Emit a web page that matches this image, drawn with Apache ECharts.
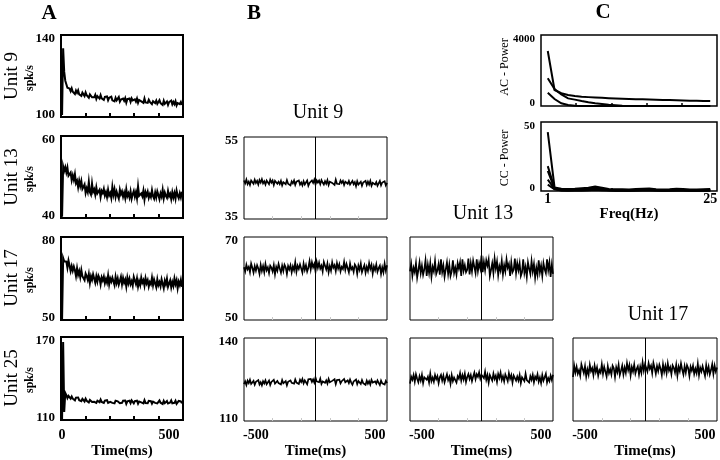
<!DOCTYPE html>
<html><head><meta charset="utf-8">
<script src="https://cdn.jsdelivr.net/npm/echarts@6/dist/echarts.min.js"></script>
<style>html,body{margin:0;padding:0;background:#fff}#c{width:720px;height:460px}</style>
</head><body><div id="c"></div>
<script>
const FONT = '"Liberation Serif","Times New Roman",serif';

// ---------- Panel A : PSTH traces, sampled every 5 ms from 0 ms ----------
const aTimeStart = 0, aTimeStep = 5;
const aUnit9 = [101,133.5,122,117.7,117.2,114.3,115.1,113.9,112.6,114.0,
112.3,113.0,111.2,112.9,111.8,113.0,111.0,111.8,110.3,111.9,
111.1,110.2,112.0,110.6,111.3,109.4,111.0,111.4,109.6,110.4,
109.6,110.8,108.8,110.2,110.4,109.0,110.7,109.1,109.5,108.3,
109.8,108.9,110.0,108.2,109.4,108.8,109.9,108.1,109.0,107.6,
109.4,108.1,108.9,109.7,107.5,108.5,107.8,109.0,107.9,109.2,
107.0,108.7,107.9,109.0,107.4,109.1,108.1,107.2,108.6,107.5,
109.0,106.9,108.3,108.6,107.6,108.3,106.9,109.0,107.1,107.9,
106.9,108.4,107.4,108.1,106.3,107.7,108.3,106.8,108.0,106.4,
107.3,108.2,106.8,107.6,105.9,107.9,106.4,107.2,107.6,105.9,
107.3,106.7,108.0,106.2,107.4,106.3,107.7,105.6,106.8,107.5,
106.3,107.3,105.9];
const aUnit13 = [40.3,52.6,51.5,52.4,51.1,52.3,50.3,50.5,51.1,49.2,
50.4,49.3,50.7,48.5,49.1,47.5,49.1,47.8,49.0,47.1,
47.6,48.2,46.1,47.2,46.3,48.8,46.3,45.7,48.4,46.4,
47.0,45.7,47.5,46.0,45.6,46.9,45.1,46.6,46.1,47.1,
45.5,46.3,45.1,46.9,45.5,46.1,44.9,47.6,45.7,47.0,
45.1,46.4,45.5,44.7,46.9,45.8,46.5,45.2,46.2,44.9,
47.0,45.3,46.0,45.0,46.5,44.7,45.8,46.6,45.2,46.3,
44.8,47.7,45.4,45.0,46.0,45.3,46.7,44.5,46.3,45.5,
46.4,44.9,45.8,45.1,46.8,45.3,44.7,46.2,45.0,46.5,
45.6,44.6,46.0,45.2,46.9,44.8,46.2,45.4,44.9,46.6,
45.3,45.9,44.6,46.3,45.0,46.1,44.7,46.7,45.5,44.8,
46.0,45.0,46.4];
const aUnit17 = [50.2,72.4,71.2,70.8,71.1,68.9,71.5,69.7,67.7,69.5,
67.8,69.3,68.0,65.9,68.7,66.3,67.7,65.5,68.0,65.8,
66.5,64.4,66.8,65.9,64.5,66.6,63.4,65.8,64.5,66.5,
65.0,63.5,65.8,63.9,66.0,65.1,62.9,65.4,64.3,65.7,
63.3,64.8,63.5,66.1,62.9,65.0,63.9,65.3,64.7,62.6,
65.6,63.4,65.0,62.8,64.1,65.6,62.9,65.2,63.5,64.6,
62.1,65.3,63.3,64.9,62.9,64.0,62.4,65.6,64.3,63.0,
65.0,62.1,64.0,62.6,65.3,63.5,64.4,62.4,65.1,63.3,
64.4,62.1,63.7,62.9,65.3,62.6,64.6,64.0,61.9,64.7,
62.6,63.7,62.2,64.7,64.0,61.5,64.2,62.9,64.9,62.0,
63.2,64.3,61.8,63.7,62.3,65.0,63.0,64.4,61.5,63.8,
62.6,64.5,62.0];
const aUnit25 = [110.5,166.4,115.8,129.5,127.9,125.8,127.4,126.6,125.4,127.0,
125.4,126.1,124.2,126.2,125.0,126.3,124.3,125.1,123.6,125.3,
124.4,123.4,125.4,123.9,124.8,122.7,124.5,124.9,123.0,124.0,
123.2,124.6,122.4,123.9,124.3,122.9,124.8,123.0,123.5,122.3,
124.0,123.0,124.3,122.4,123.8,123.1,124.4,122.4,123.5,122.0,
124.0,122.6,123.5,124.4,122.1,123.2,122.4,123.9,122.7,124.1,
121.7,123.5,122.7,123.9,122.2,124.2,123.0,122.1,123.6,122.5,
124.0,121.8,123.4,123.8,122.7,123.5,122.0,124.3,122.3,123.2,
122.2,123.9,122.8,123.6,121.8,123.3,124.0,122.4,123.7,122.0,
123.0,124.1,122.5,123.4,121.6,123.8,122.2,123.2,123.7,121.9,
123.3,122.6,124.1,122.1,123.5,122.4,123.9,121.7,123.0,123.8,
122.5,123.5,122.0];
const aTicks9 = [100, 140], aTicks13 = [40, 60], aTicks17 = [50, 80], aTicks25 = [110, 170];
const aTimeLabels = [0, 500];

// ---------- Panel B : correlograms, sampled every 10 ms from -600 ms ----------
const bTimeStart = -600, bTimeStep = 10;
const bUnit9 = [44.4,43.7,44.6,43.5,44.1,43.3,44.4,44.1,43.6,44.6,
43.8,44.3,43.4,44.5,43.9,44.7,43.7,44.2,43.4,44.4,
44.0,43.5,44.6,43.9,44.4,43.3,44.3,44.6,43.6,44.1,
43.5,44.3,43.2,44.0,44.2,43.5,44.5,43.6,43.9,43.2,
44.2,43.7,44.4,43.3,44.1,43.7,44.4,43.4,43.9,43.2,
44.2,43.4,43.9,44.4,43.1,43.8,43.4,44.4,43.8,44.6,
43.4,44.4,43.9,44.4,43.5,44.5,43.9,43.4,44.2,43.6,
44.5,43.3,44.1,44.3,43.8,44.2,43.3,44.6,43.6,44.0,
43.5,44.4,43.8,44.3,43.3,44.1,44.5,43.6,44.3,43.4,
43.8,44.3,43.5,44.0,43.0,44.2,43.4,43.8,44.1,43.1,
43.9,43.6,44.3,43.3,44.1,43.4,44.3,43.1,43.8,44.2,
43.4,44.0,43.1,43.7,44.3,43.2,43.9,43.5,44.2,43.2,43.8];
const bUnit17Left = [62.7,61.7,63.3,62.2,62.8,61.5,63.6,62.6,61.4,63.0,61.9,
63.2,62.4,61.1,63.3,61.8,63.0,61.5,63.5,62.0,62.7,
61.3,63.1,62.6,61.7,63.2,61.0,62.8,61.9,63.5,62.4,
61.4,63.1,61.8,63.3,62.7,61.1,63.0,62.2,63.2,61.5,
62.9,62.0,63.9,61.6,63.1,62.3,63.4,63.0,61.4,63.6,
62.1,63.2,61.7,62.6,64.2,62.2,63.9,62.7,63.5,61.7,
64.0,62.6,63.8,62.4,63.1,61.7,64.0,63.1,62.2,63.6,
61.5,63.0,61.9,63.9,62.6,63.2,61.8,63.7,62.4,63.4,
61.7,62.8,62.3,64.0,62.1,63.5,63.1,61.5,63.6,62.2,
62.7,61.6,63.4,62.9,61.1,63.1,62.1,63.6,61.5,62.4,
63.2,61.4,62.8,61.8,63.7,62.3,63.3,61.2,62.9,62.0,
63.4,61.6,62.5,63.1,61.1,62.7,61.5,63.6,61.9,63.2];
const bUnit25Left = [123.3,124.3,123.0,124.6,123.7,124.9,123.4,123.8,124.5,123.1,
124.2,123.5,124.8,123.2,124.0,122.9,124.4,123.6,124.7,123.3,
123.9,124.6,123.0,124.1,123.4,124.9,123.5,123.1,124.5,123.7,
124.3,123.2,124.8,123.6,123.3,124.4,122.9,124.2,123.8,124.7,
123.8,124.5,123.5,125.0,123.9,124.4,123.4,124.9,124.1,125.2,
123.6,124.7,124.0,123.3,125.1,124.6,125.2,124.1,125.0,123.9,
125.7,124.3,124.9,124.0,125.3,123.4,124.3,125.0,123.8,124.7,
123.5,125.2,124.0,123.7,124.5,123.9,125.1,123.3,124.8,124.1,
124.9,123.6,124.4,123.8,125.2,124.0,123.5,124.7,123.7,125.0,
123.9,123.1,124.3,123.6,125.0,123.3,124.5,123.8,123.4,124.8,
123.7,124.2,123.1,124.6,123.5,124.4,123.2,124.9,123.9,123.3,
124.3,123.5,124.7,123.8,123.0,124.6,123.6,124.1,123.2,124.5,123.7];
const bUnit17Mid = [61.7,63.5,60.6,62.6,61.5,63.7,60.2,62.0,63.9,61.3,63.1,
60.9,62.2,64.4,60.6,63.3,61.3,63.7,60.4,62.8,61.7,
64.2,61.1,62.0,63.5,60.9,64.6,61.5,63.1,60.4,62.2,
63.9,61.1,63.3,60.6,61.7,64.4,61.3,62.6,60.9,63.7,
62.4,63.9,60.6,64.6,61.9,63.2,61.5,62.1,64.8,61.0,
63.7,61.7,64.3,62.8,61.3,64.6,61.8,63.7,62.4,65.5,
61.5,64.0,62.0,64.4,63.1,64.6,60.6,62.1,63.7,61.3,
64.8,62.4,64.1,60.8,63.0,61.9,64.3,61.0,63.2,61.7,
64.6,62.6,63.5,60.6,63.9,61.5,62.1,64.8,61.3,63.7,
62.0,63.7,60.6,61.5,64.6,61.3,62.8,60.4,63.9,62.4,
61.1,64.2,61.7,63.5,60.2,62.6,60.9,64.4,61.5,63.1,
60.6,63.7,62.2,61.3,64.6,62.0,63.9,60.4,63.3,61.1];
const bUnit25Mid = [123.5,126.0,124.9,126.6,124.2,126.9,125.3,124.0,126.2,124.6,
126.7,123.7,125.8,126.4,124.9,126.0,123.9,127.1,124.4,125.7,
124.2,126.6,125.1,126.2,123.7,125.8,126.7,124.6,126.4,124.0,
125.5,126.9,124.8,126.0,123.5,126.6,124.4,125.7,126.4,123.9,
126.2,125.3,127.3,124.6,126.6,125.0,127.1,124.1,125.9,127.0,
125.2,126.6,124.4,126.1,127.5,125.1,126.9,126.0,127.6,125.3,126.7,
127.3,125.5,127.8,124.9,126.6,123.9,126.6,125.9,124.6,127.1,
125.2,126.4,124.1,127.0,125.5,127.5,124.8,126.2,124.3,126.8,
125.7,124.4,127.3,125.3,126.6,123.9,126.4,127.1,124.6,126.1,
124.6,126.6,123.7,125.8,126.4,124.4,127.1,124.8,125.5,123.9,
126.2,124.9,126.7,124.0,126.0,125.1,126.9,124.2,125.7,123.7,
126.6,124.6,125.8,127.1,123.9,125.5,124.4,126.4,124.8,126.7];
const bUnit25Right = [125.9,130.0,127.5,129.6,127.1,128.4,126.4,130.5,128.9,127.3,129.8,
126.1,128.7,126.8,130.3,128.0,129.1,126.6,130.0,127.7,129.4,
126.4,128.4,127.5,130.5,127.1,129.6,128.9,126.1,129.8,127.3,
128.7,126.8,130.0,129.1,125.9,129.4,127.7,130.3,126.6,128.2,
130.0,126.8,129.3,127.4,130.9,128.4,130.2,126.5,129.5,127.9,
130.4,127.2,128.8,129.8,126.8,129.6,127.5,131.2,128.2,130.5,
129.8,127.9,130.9,128.9,130.0,127.3,131.0,129.2,127.1,129.9,
128.0,130.3,128.9,126.6,130.5,127.8,129.9,127.3,130.8,128.2,
129.4,126.9,130.1,129.2,127.5,130.3,126.4,129.6,128.0,130.8,
128.6,126.8,129.8,127.5,130.2,129.1,126.3,129.6,128.2,130.0,
127.0,128.9,127.3,130.7,126.6,129.3,127.9,129.8,129.1,126.3,
130.2,127.5,129.6,126.8,128.4,130.5,127.0,130.0,127.9,129.3];
const bTicks9 = [35, 55], bTicks17 = [50, 70], bTicks25 = [110, 140];
const bTimeLabels = [-500, 500];

// ---------- Panel C : power spectra ----------
const freqHz = [1,2,3,4,5,6,7,8,9,10,11,12,13,14,15,16,17,18,19,20,21,22,23,24,25];
const acPowerHigh = [3100,900,720,620,565,525,500,480,460,440,425,410,397,385,375,365,355,345,335,320,310,300,290,283,275];
const acPowerMid  = [1560,950,650,430,360,280,210,150,110,70,40,15,5,0,0,0,0,0,0,0,0,0,0,0,0];
const acPowerLow  = [750,390,150,60,15,0,0,0,0,0,0,0,0,0,0,0,0,0,0,0,0,0,0,0,0];
const ccPower1 = [42.6,2.6,1.6,1.4,1.6,2.0,2.3,3.3,2.4,1.5,1.2,1.3,1.1,1.4,1.6,1.8,1.3,1.1,1.2,1.7,1.4,1.1,1.0,1.2,1.5];
const ccPower2 = [18.0,1.9,1.0,0.8,1.0,1.3,1.6,2.5,1.8,0.9,0.7,0.8,0.6,0.8,1.0,1.2,0.8,0.6,0.7,1.0,0.8,0.6,0.5,0.7,0.9];
const ccPower3 = [14.5,1.7,0.8,0.6,0.7,0.9,1.2,1.9,1.3,0.7,0.5,0.6,0.4,0.6,0.7,0.9,0.6,0.4,0.5,0.7,0.6,0.4,0.4,0.5,0.6];
const ccPower4 = [8.3,1.5,0.6,0.4,0.5,0.6,0.8,1.4,1.0,0.5,0.3,0.4,0.3,0.4,0.5,0.6,0.4,0.3,0.3,0.5,0.4,0.3,0.3,0.3,0.4];
const ccPower5 = [4.6,1.3,0.4,0.3,0.3,0.4,0.5,0.9,0.6,0.3,0.2,0.3,0.2,0.3,0.3,0.4,0.3,0.2,0.2,0.3,0.3,0.2,0.2,0.2,0.3];
const acTicks = [0, 4000], ccTicks = [0, 50], freqLabels = [1, 25];

// ---------- build ----------
const grids = [], xAxes = [], yAxes = [], series = [];
function timePairs(start, step, vals) { return vals.map((v, i) => [start + i * step, v]); }
function addGrid(box, bw) {
  grids.push(Object.assign({show: true, borderColor: '#000', borderWidth: bw, backgroundColor: 'transparent', outerBoundsMode: 'none', containLabel: false}, box));
  return grids.length - 1;
}
function yAxis(gi, ticks, fs, show) {
  const lo = ticks[0], hi = ticks[1];
  const base = {fontFamily: FONT, fontSize: fs, fontWeight: 'bold', color: '#000'};
  return {type: 'value', gridIndex: gi, min: lo, max: hi,
    axisLine: {show: false}, axisTick: {show: false}, splitLine: {show: false},
    axisLabel: {show: show, customValues: ticks, margin: 6, fontFamily: FONT, fontSize: fs, fontWeight: 'bold', color: '#000',
      formatter: v => v === hi ? '{t|' + v + '}' : '{b|' + v + '}',
      rich: {t: Object.assign({padding: [8, 0, 0, 0]}, base), b: Object.assign({padding: [0, 0, 5, 0]}, base)}}};
}
function xAxisA(gi, labels) {
  return {type: 'value', gridIndex: gi, min: -5, max: 565,
    axisLine: {show: false}, splitLine: {show: false},
    axisTick: {show: true, inside: true, length: 4, customValues: [109, 223, 337, 451], lineStyle: {color: '#000', width: 2}},
    axisLabel: {show: !!labels, customValues: labels || [], margin: 8, fontFamily: FONT, fontSize: 14, fontWeight: 'bold', color: '#000'},
    name: labels ? 'Time(ms)' : '', nameLocation: 'middle', nameGap: 24,
    nameTextStyle: {fontFamily: FONT, fontSize: 15, fontWeight: 'bold', color: '#000'}};
}
function xAxisB(gi, labels) {
  return {type: 'value', gridIndex: gi, min: -600, max: 600,
    axisLine: {show: false}, splitLine: {show: false},
    axisTick: {show: true, inside: true, length: 3, customValues: [-360, -120, 120, 360], lineStyle: {color: '#c8c8c8', width: 1}},
    axisLabel: {show: !!labels, customValues: labels || [], margin: 7, fontFamily: FONT, fontSize: 14, fontWeight: 'bold', color: '#000'},
    name: labels ? 'Time(ms)' : '', nameLocation: 'middle', nameGap: 23,
    nameTextStyle: {fontFamily: FONT, fontSize: 15, fontWeight: 'bold', color: '#000'}};
}
function xAxisC(gi, labels) {
  return {type: 'value', gridIndex: gi, min: 0, max: 26,
    axisLine: {show: false}, splitLine: {show: false},
    axisTick: {show: true, inside: true, length: 3, customValues: [5.2, 10.4, 15.6, 20.8], lineStyle: {color: '#000', width: 1.5}},
    axisLabel: {show: !!labels, customValues: labels || [], margin: 1, fontFamily: FONT, fontSize: 14, fontWeight: 'bold', color: '#000'},
    name: labels ? 'Freq(Hz)' : '', nameLocation: 'middle', nameGap: 0,
    nameTextStyle: {fontFamily: FONT, fontSize: 15, fontWeight: 'bold', color: '#000'}};
}
function line(gi, data, w, extra) {
  series.push(Object.assign({type: 'line', xAxisIndex: gi, yAxisIndex: gi, data: data, showSymbol: false, symbol: 'none',
    lineStyle: {color: '#000', width: w, join: 'miter'}, animation: false, silent: true, clip: true}, extra || {}));
}
const zeroLine = {markLine: {silent: true, symbol: 'none', label: {show: false}, animation: false,
  lineStyle: {color: '#000', width: 1, type: 'solid'}, data: [{xAxis: 0}]}};

// Panel A
const aPanels = [
  [{left: 61, top: 35, width: 122, height: 82}, aUnit9, aTicks9, null],
  [{left: 61, top: 136, width: 122, height: 82}, aUnit13, aTicks13, null],
  [{left: 61, top: 237, width: 122, height: 83}, aUnit17, aTicks17, null],
  [{left: 61, top: 337, width: 122, height: 83}, aUnit25, aTicks25, aTimeLabels]
];
aPanels.forEach(p => {
  const gi = addGrid(p[0], 2);
  xAxes.push(xAxisA(gi, p[3]));
  yAxes.push(yAxis(gi, p[2], 13, true));
  line(gi, timePairs(aTimeStart, aTimeStep, p[1]), 2);
});
// Panel B
const bPanels = [
  [{left: 244, top: 137, width: 143, height: 82}, bUnit9, bTicks9, true, null],
  [{left: 244, top: 237, width: 143, height: 83}, bUnit17Left, bTicks17, true, null],
  [{left: 244, top: 338, width: 143, height: 83}, bUnit25Left, bTicks25, true, bTimeLabels],
  [{left: 410, top: 237, width: 143, height: 83}, bUnit17Mid, bTicks17, false, null],
  [{left: 410, top: 338, width: 143, height: 83}, bUnit25Mid, bTicks25, false, bTimeLabels],
  [{left: 573, top: 338, width: 144, height: 83}, bUnit25Right, bTicks25, false, bTimeLabels]
];
bPanels.forEach(p => {
  const gi = addGrid(p[0], 1);
  xAxes.push(xAxisB(gi, p[4]));
  yAxes.push(yAxis(gi, p[2], 13, p[3]));
  line(gi, timePairs(bTimeStart, bTimeStep, p[1]), 1.7, zeroLine);
});
// Panel C
const giAC = addGrid({left: 541, top: 35, width: 176, height: 71}, 1.5);
xAxes.push(xAxisC(giAC, null));
yAxes.push(yAxis(giAC, acTicks, 11, true));
[acPowerHigh, acPowerMid, acPowerLow].forEach(arr => line(giAC, freqHz.map((f, i) => [f, arr[i]]), 2));
const giCC = addGrid({left: 541, top: 122, width: 176, height: 69}, 1.5);
xAxes.push(xAxisC(giCC, freqLabels));
yAxes.push(yAxis(giCC, ccTicks, 11, true));
[ccPower1, ccPower2, ccPower3, ccPower4, ccPower5].forEach(arr => line(giCC, freqHz.map((f, i) => [f, arr[i]]), 2));

// texts
function txt(x, y, s, size, weight, rot) {
  return {type: 'text', x: x, y: y, rotation: rot || 0, silent: true,
    style: {text: s, fontFamily: FONT, fontSize: size, fontWeight: weight || 'normal', fill: '#000',
      align: 'center', verticalAlign: 'middle', textAlign: 'center', textVerticalAlign: 'middle'}};
}
const R = Math.PI / 2;
const graphic = [
  txt(49, 14, 'A', 21, 'bold'), txt(254, 14, 'B', 21, 'bold'), txt(603, 13, 'C', 21, 'bold'),
  txt(12, 76, 'Unit 9', 19, 'normal', R), txt(30, 78, 'spk/s', 12, 'bold', R),
  txt(12, 177, 'Unit 13', 19, 'normal', R), txt(30, 179, 'spk/s', 12, 'bold', R),
  txt(12, 278, 'Unit 17', 19, 'normal', R), txt(30, 280, 'spk/s', 12, 'bold', R),
  txt(12, 378, 'Unit 25', 19, 'normal', R), txt(30, 380, 'spk/s', 12, 'bold', R),
  txt(318, 113, 'Unit 9', 20), txt(483, 214, 'Unit 13', 20), txt(658, 315, 'Unit 17', 20),
  txt(505, 67, 'AC - Power', 12, 'normal', R), txt(505, 158, 'CC - Power', 12, 'normal', R)
];

const chart = echarts.init(document.getElementById('c'), null, {renderer: 'canvas'});
chart.setOption({animation: false, backgroundColor: '#fff', grid: grids, xAxis: xAxes, yAxis: yAxes, series: series, graphic: graphic});
</script></body></html>
